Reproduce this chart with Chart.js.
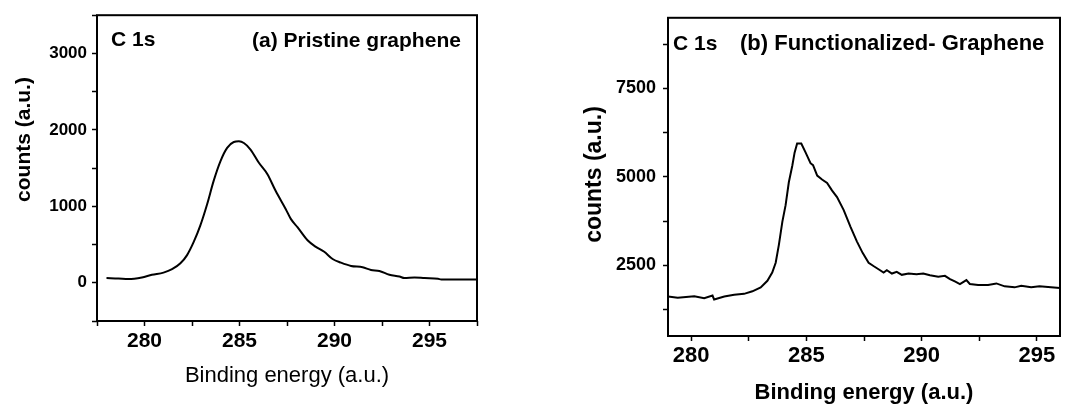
<!DOCTYPE html>
<html>
<head>
<meta charset="utf-8">
<script src="https://cdn.jsdelivr.net/npm/chart.js@4/dist/chart.umd.min.js"></script>
<style>
  html, body { margin: 0; padding: 0; background: #fff; }
  body { width: 1065px; height: 407px; position: relative; overflow: hidden; }
  canvas { position: absolute; top: 0; }
  #cA { left: 0; }
  #cB { left: 540px; }
</style>
</head>
<body>
<canvas id="cA" width="540" height="407"></canvas>
<canvas id="cB" width="525" height="407"></canvas>
<script>
// ---------- Panel (a): Pristine graphene ----------
const energyA = [278.0, 278.63, 279.15, 279.86, 280.39, 281.0, 281.45, 281.89, 282.24, 282.59, 282.94, 283.3, 283.64, 284.0, 284.35, 284.7, 284.97, 285.23, 285.58, 286.02, 286.47, 286.9, 287.43, 287.7, 288.05, 288.58, 289.02, 289.46, 289.9, 290.34, 290.87, 291.48, 291.92, 292.36, 292.89, 293.42, 293.68, 294.21, 294.74, 295.45, 295.62, 297.56];
const countsA = [61, 56, 48, 69, 104, 133, 177, 255, 362, 534, 751, 1031, 1333, 1592, 1764, 1841, 1850, 1828, 1743, 1570, 1420, 1203, 966, 836, 728, 556, 470, 405, 311, 263, 220, 203, 168, 155, 104, 82, 61, 69, 61, 52, 43, 43];

// ---------- Panel (b): Functionalized graphene ----------
const energyB = [279.0, 279.42, 280.14, 280.57, 280.93, 281.0, 281.44, 281.87, 282.3, 282.66, 283.02, 283.31, 283.52, 283.67, 283.81, 283.96, 284.1, 284.24, 284.39, 284.49, 284.6, 284.78, 284.97, 285.18, 285.29, 285.47, 285.68, 285.9, 286.11, 286.33, 286.62, 286.91, 287.19, 287.44, 287.7, 287.91, 288.13, 288.35, 288.49, 288.71, 288.92, 289.14, 289.43, 289.78, 290.07, 290.36, 290.72, 291.01, 291.23, 291.44, 291.66, 291.94, 292.09, 292.45, 292.88, 293.24, 293.6, 294.03, 294.32, 294.75, 295.11, 295.61, 296.0];
const countsB = [1617, 1580, 1625, 1569, 1644, 1533, 1617, 1664, 1692, 1764, 1876, 2062, 2294, 2573, 3085, 3735, 4200, 4849, 5315, 5686, 5945, 5945, 5686, 5387, 5332, 5036, 4925, 4830, 4618, 4431, 4061, 3595, 3177, 2851, 2573, 2480, 2388, 2294, 2361, 2266, 2313, 2230, 2266, 2249, 2266, 2221, 2174, 2202, 2110, 2043, 1970, 2082, 1970, 1943, 1943, 1987, 1904, 1876, 1923, 1876, 1904, 1876, 1859];

// ---------- Tick values ----------
const xTicksA = [277.5, 280, 282.5, 285, 287.5, 290, 292.5, 295, 297.5];
const xLabelsA = [280, 285, 290, 295];
const yTicksA = [-500, 0, 500, 1000, 1500, 2000, 2500, 3000, 3500];
const yLabelsA = [0, 1000, 2000, 3000];

const xTicksB = [280, 282.5, 285, 287.5, 290, 292.5, 295];
const xLabelsB = [280, 285, 290, 295];
const yTicksB = [1250, 2500, 3750, 5000, 6250, 7500, 8750];
const yLabelsB = [2500, 5000, 7500];

const FAMILY = "'Liberation Sans', Arial, Helvetica, sans-serif";

const framePlugin = {
  id: 'frame',
  afterDraw(chart, args, opts) {
    const { ctx, chartArea: a } = chart;
    ctx.save();
    ctx.strokeStyle = '#000';
    ctx.lineWidth = 2;
    ctx.strokeRect(a.left, a.top, a.right - a.left, a.bottom - a.top);
    ctx.fillStyle = '#000';
    (opts.texts || []).forEach(t => {
      ctx.save();
      ctx.font = t.font;
      ctx.textAlign = t.align || 'left';
      ctx.textBaseline = t.baseline || 'alphabetic';
      ctx.translate(t.x, t.y);
      if (t.rot) ctx.rotate(t.rot);
      ctx.fillText(t.text, 0, 0);
      ctx.restore();
    });
    ctx.restore();
  }
};

function makeChart(id, xs, ys, cfg) {
  const pts = xs.map((x, i) => ({ x: x, y: ys[i] }));
  return new Chart(document.getElementById(id), {
    type: 'scatter',
    data: { datasets: [{
      data: pts, showLine: true, pointRadius: 0, borderColor: '#000',
      borderWidth: 2, tension: cfg.tension, cubicInterpolationMode: cfg.interp, fill: false
    }] },
    options: {
      responsive: false, animation: false, events: [],
      layout: { padding: cfg.padding },
      plugins: { legend: { display: false }, tooltip: { enabled: false }, frame: { texts: cfg.texts } },
      scales: {
        x: {
          type: 'linear', min: cfg.xmin, max: cfg.xmax,
          border: { display: false },
          grid: { display: true, drawOnChartArea: false, drawTicks: true, tickLength: 5, tickColor: '#000', tickWidth: 1.5 },
          ticks: {
            color: '#000', padding: cfg.xPad, maxRotation: 0, autoSkip: false,
            font: { family: FAMILY, size: cfg.xFont, weight: 'bold' },
            callback: v => cfg.xLabels.includes(v) ? String(v) : ''
          },
          afterBuildTicks: s => { s.ticks = cfg.xTicks.map(v => ({ value: v })); },
          afterFit: s => { s.height = cfg.xH; }
        },
        y: {
          type: 'linear', min: cfg.ymin, max: cfg.ymax,
          border: { display: false },
          grid: { display: true, drawOnChartArea: false, drawTicks: true, tickLength: 5, tickColor: '#000', tickWidth: 1.5 },
          ticks: {
            color: '#000', padding: cfg.yPad, autoSkip: false,
            font: { family: FAMILY, size: cfg.yFont, weight: 'bold' },
            callback: v => cfg.yLabels.includes(v) ? String(v) : ''
          },
          afterBuildTicks: s => { s.ticks = cfg.yTicks.map(v => ({ value: v })); },
          afterFit: s => { s.width = cfg.yW; }
        }
      }
    },
    plugins: [framePlugin]
  });
}

makeChart('cA', energyA, countsA, {
  tension: 0.4, interp: 'monotone', padding: { left: 0, top: 13, right: 63, bottom: 0 },
  xmin: 277.5, xmax: 297.5, ymin: -500, ymax: 3500,
  xTicks: xTicksA, xLabels: xLabelsA, yTicks: yTicksA, yLabels: yLabelsA,
  xFont: 21, yFont: 17, xPad: 3, yPad: 5, xH: 86, yW: 97,
  texts: [
    { text: 'C 1s', x: 111, y: 46, font: 'bold 21px ' + FAMILY },
    { text: '(a) Pristine graphene', x: 252, y: 47, font: 'bold 21px ' + FAMILY },
    { text: 'counts (a.u.)', x: 24, y: 139.5, font: 'bold 21px ' + FAMILY, align: 'center', baseline: 'middle', rot: -Math.PI / 2 },
    { text: 'Binding energy (a.u.)', x: 287, y: 376, font: '22px ' + FAMILY, align: 'center', baseline: 'middle' }
  ]
});

makeChart('cB', energyB, countsB, {
  tension: 0, interp: 'default', padding: { left: 0, top: 14, right: 5, bottom: 0 },
  xmin: 279, xmax: 296, ymin: 500, ymax: 9500,
  xTicks: xTicksB, xLabels: xLabelsB, yTicks: yTicksB, yLabels: yLabelsB,
  xFont: 22, yFont: 18, xPad: 2, yPad: 7, xH: 71, yW: 128,
  texts: [
    { text: 'C 1s', x: 133, y: 50, font: 'bold 21px ' + FAMILY },
    { text: '(b) Functionalized- Graphene', x: 200, y: 50, font: 'bold 22px ' + FAMILY },
    { text: 'counts (a.u.)', x: 55, y: 174.5, font: 'bold 23px ' + FAMILY, align: 'center', baseline: 'middle', rot: -Math.PI / 2 },
    { text: 'Binding energy (a.u.)', x: 324, y: 393, font: 'bold 22px ' + FAMILY, align: 'center', baseline: 'middle' }
  ]
});
</script>
</body>
</html>
